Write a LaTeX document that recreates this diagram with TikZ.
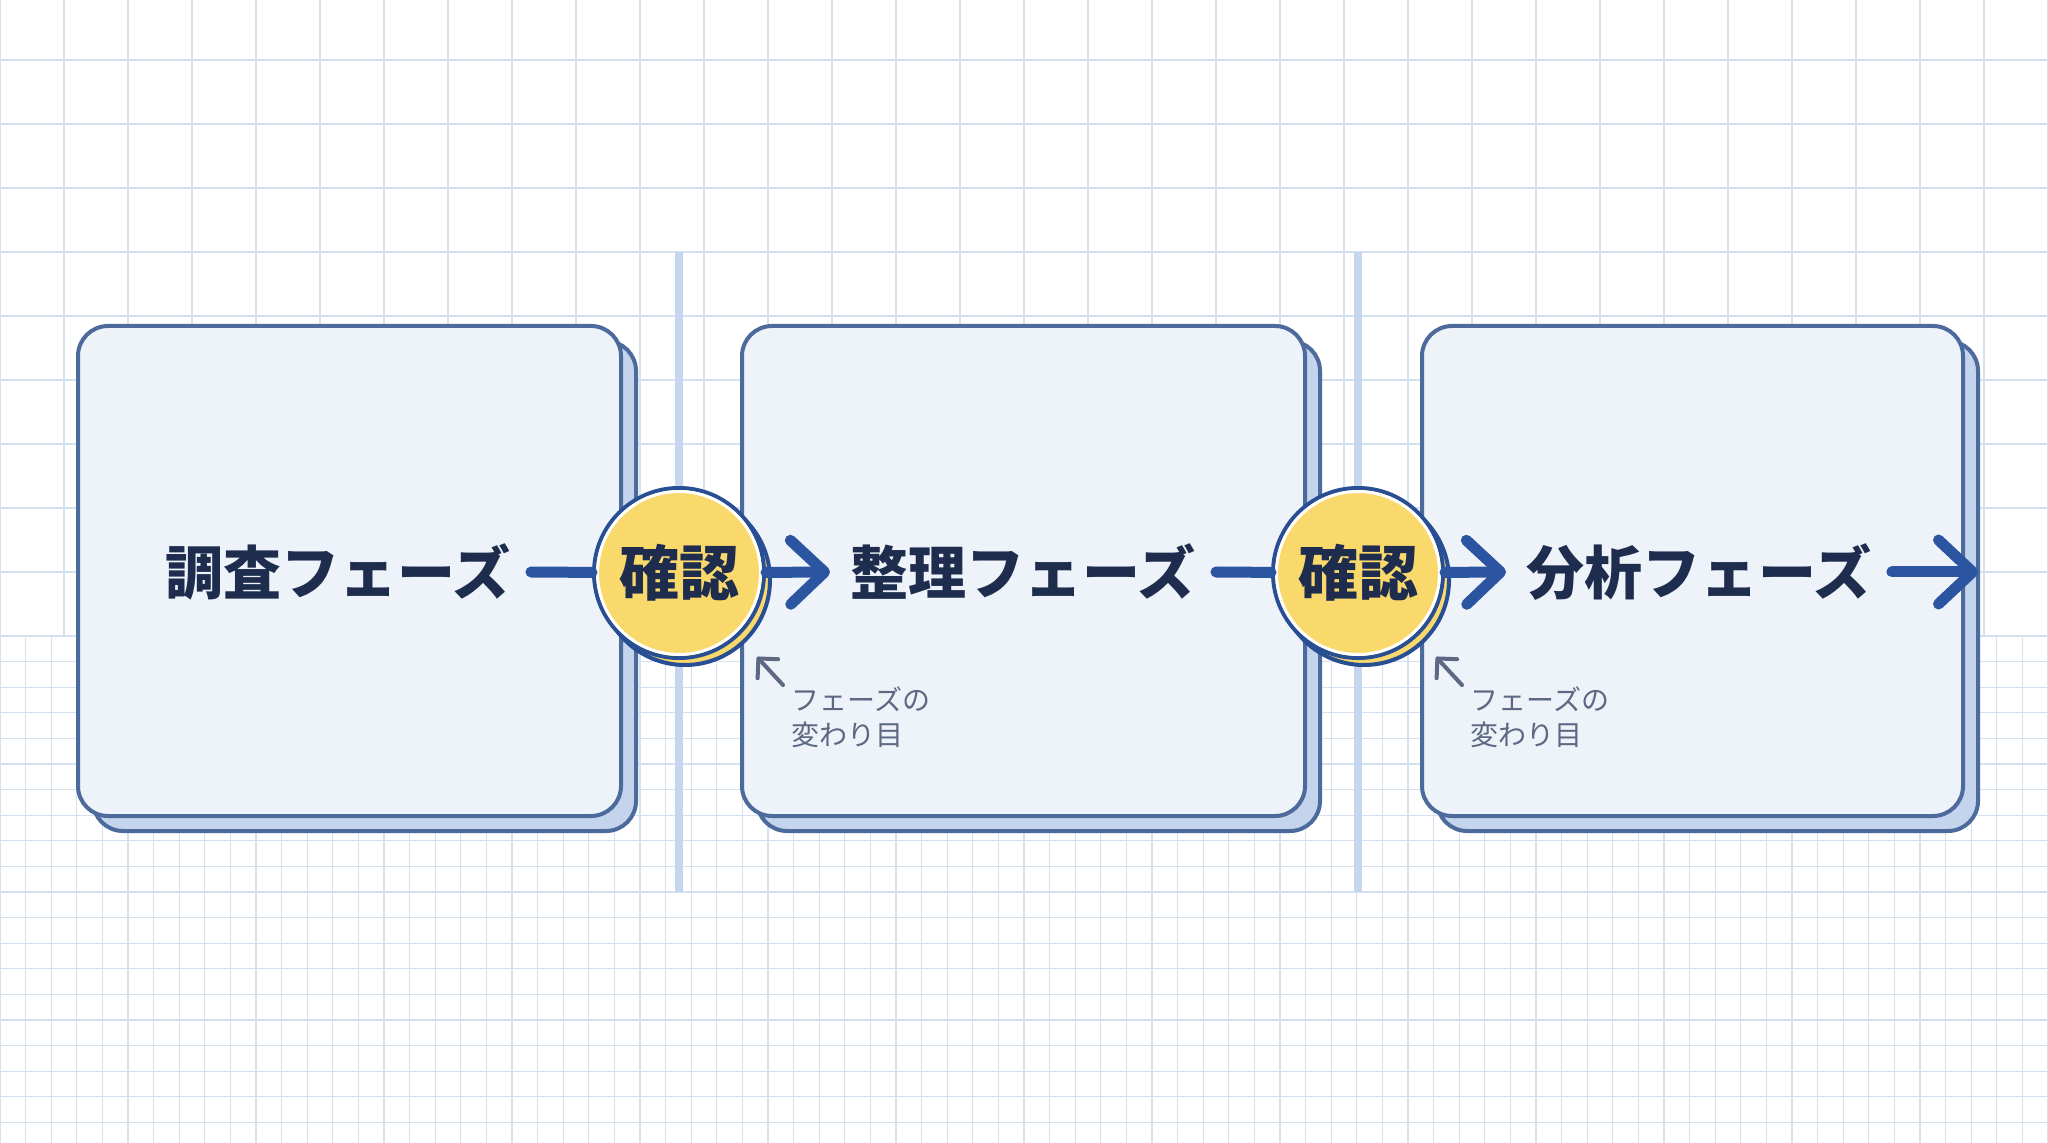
\documentclass[tikz,border=0pt]{standalone}
\usepackage{fontspec}
\usepackage{tikz}
\usetikzlibrary{arrows.meta,positioning,calc}
\newfontfamily\jpfont{Noto Sans CJK JP}
\definecolor{gridblue}{RGB}{212,225,241}
\definecolor{sepblue}{RGB}{197,214,238}
\definecolor{boxfill}{RGB}{238,242,249}
\definecolor{boxline}{RGB}{77,106,156}
\definecolor{shadowfill}{RGB}{196,212,236}
\definecolor{flowblue}{RGB}{43,85,160}
\definecolor{navy}{RGB}{30,44,78}
\definecolor{gateyellow}{RGB}{249,217,108}
\definecolor{gateline}{RGB}{40,78,148}
\definecolor{notegray}{RGB}{93,104,130}

\begin{document}
\begin{tikzpicture}[x=0.5pt, y=-0.5pt,
  gridline/.style={draw=gridblue, line width=0.8pt},
  fineline/.style={draw=gridblue, line width=0.6pt},
  sepline/.style={draw=sepblue, line width=4pt},
  boxshadow/.style={draw=boxline, line width=2pt, fill=shadowfill, rounded corners=15pt},
  phasebox/.style={draw=boxline, line width=2pt, fill=boxfill, rounded corners=15pt},
  phasetext/.style={font=\jpfont\bfseries\fontsize{29pt}{35pt}\selectfont, text=navy, inner xsep=10pt, inner ysep=0pt},
  gateback/.style={draw=gateline, line width=2pt, fill=gateyellow},
  gate/.style={circle, draw=gateline, line width=2pt, fill=gateyellow, minimum size=85pt, inner sep=0pt, font=\jpfont\bfseries\fontsize{30pt}{36pt}\selectfont, text=navy},
  flow/.style={draw=flowblue, line width=5.5pt, line cap=round},
  flowarrow/.style={flow, -{Straight Barb[length=17pt, width=32pt, round]}},
  notetext/.style={font=\jpfont\fontsize{14pt}{17.5pt}\selectfont, text=notegray, align=left, inner sep=0pt, anchor=west},
  notearrow/.style={draw=notegray, line width=2pt, line cap=round, -{Straight Barb[length=7pt, width=14pt, round]}}
]
  \useasboundingbox (0,0) rectangle (2048,1143);
  \fill[white] (0,0) rectangle (2048,1143);

  % Graph paper: large squares on top, fine squares below
  \foreach \x in {0,64,...,2048}
    \draw[gridline] (\x,0) -- (\x,636);
  \foreach \y in {60,124,...,636}
    \draw[gridline] (0,\y) -- (2048,\y);
  \foreach \i in {0,...,80}
    \draw[fineline] (\i*25.6,636) -- (\i*25.6,1143);
  \foreach \j in {0,...,20}
    \draw[fineline] (0,636+\j*25.6) -- (2048,636+\j*25.6);

  % Phase boundaries
  \draw[sepline] (679,252) -- (679,892);
  \draw[sepline] (1358,252) -- (1358,892);

  % Phase boxes
  \draw[boxshadow] (93,341) rectangle (636,831);
  \draw[phasebox] (78,326) rectangle (621,816);
  \draw[boxshadow] (757,341) rectangle (1320,831);
  \draw[phasebox] (742,326) rectangle (1305,816);
  \draw[boxshadow] (1437,341) rectangle (1978,831);
  \draw[phasebox] (1422,326) rectangle (1963,816);

  \node[phasetext] (t1) at (338,572) {調査フェーズ};
  \node[phasetext] (t2) at (1023,572) {整理フェーズ};
  \node[phasetext] (t3) at (1699,572) {分析フェーズ};

  % Checkpoints
  \draw[gateback] (685,580) circle[radius=42.5pt];
  \node[gate] (c1) at (679,573) {確認};
  \draw[white, line width=1.5pt] (c1) circle[radius=40.75pt];
  \draw[gateback] (1364,580) circle[radius=42.5pt];
  \node[gate] (c2) at (1358,573) {確認};
  \draw[white, line width=1.5pt] (c2) circle[radius=40.75pt];

  % Flow
  \coordinate (e3) at (1978,572);
  \draw[flow] (t1.east) -- (c1);
  \draw[flowarrow] (c1) -- (t2.west);
  \draw[flow] (t2.east) -- (c2);
  \draw[flowarrow] (c2) -- (t3.west);
  \draw[flowarrow] (t3.east) -- (e3);

  % Notes
  \node[notetext] (n1) at (791,717) {フェーズの\\変わり目};
  \node[notetext] (n2) at (1470,717) {フェーズの\\変わり目};
  \coordinate (a1) at (757,657);
  \coordinate (a2) at (1436,657);
  \draw[notearrow] ([shift={(-8,-1)}]n1.north west) -- (a1);
  \draw[notearrow] ([shift={(-8,-1)}]n2.north west) -- (a2);
\end{tikzpicture}
\end{document}
